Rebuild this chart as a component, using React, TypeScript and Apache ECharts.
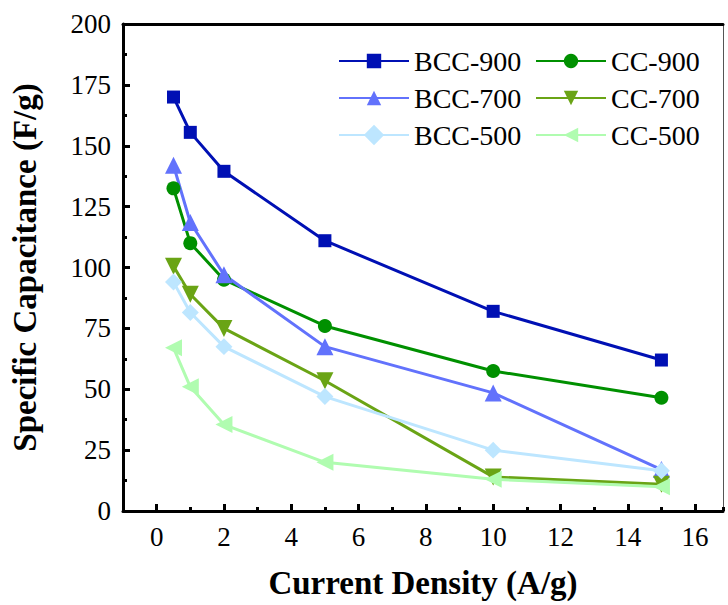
import React, { useEffect, useRef } from "react";
import * as echarts from "echarts";

// Current density (A/g)
const currentDensity = [0.5, 1, 2, 5, 10, 15];

// Specific capacitance (F/g) for each carbon sample
const bcc900 = [170, 155.5, 139.5, 111, 82, 62];
const bcc700 = [142, 118.5, 97, 67.5, 48.5, 17];
const bcc500 = [94, 81.5, 67.5, 47, 25, 16.5];
const cc900 = [132.5, 110, 95, 76, 57.5, 46.5];
const cc700 = [100.5, 89, 75, 53.5, 14, 11];
const cc500 = [67, 51, 35.5, 20, 13, 10];

const FONT = "serif";
const X_MIN = -1;
const X_MAX = 16.83;

const pair = (ys: number[]) => currentDensity.map((x, i) => [x, ys[i]]);

const seriesDefs = [
  { name: "BCC-900", data: bcc900, color: "#0010b4", symbol: "rect", size: 13, rotate: 0 },
  { name: "CC-900", data: cc900, color: "#009000", symbol: "circle", size: 14, rotate: 0 },
  { name: "BCC-700", data: bcc700, color: "#6272fc", symbol: "triangle", size: 17, rotate: 0 },
  { name: "CC-700", data: cc700, color: "#6aa415", symbol: "triangle", size: 17, rotate: 180 },
  { name: "BCC-500", data: bcc500, color: "#bde6ff", symbol: "rect", size: 12, rotate: 45 },
  { name: "CC-500", data: cc500, color: "#b0fcb0", symbol: "triangle", size: 17, rotate: 90 },
];

export default function App() {
  const ref = useRef<HTMLDivElement>(null);

  useEffect(() => {
    if (!ref.current) return;
    const chart = echarts.init(ref.current, null, { renderer: "svg" });

    const legendCommon = {
      orient: "vertical" as const,
      top: 42,
      itemWidth: 70,
      itemHeight: 18,
      itemGap: 9,
      textStyle: { fontFamily: FONT, fontSize: 28, lineHeight: 28, color: "#000" },
      selectedMode: false,
    };

    chart.setOption({
      animation: false,
      backgroundColor: "#fff",
      grid: { left: 123, top: 24, right: 5, bottom: 94 },
      legend: [
        { ...legendCommon, left: 333, data: ["BCC-900", "BCC-700", "BCC-500"] },
        { ...legendCommon, left: 530, data: ["CC-900", "CC-700", "CC-500"] },
      ],
      xAxis: [
        {
          // main axis: even-valued ticks and labels
          type: "value",
          min: X_MIN,
          max: X_MAX,
          splitNumber: 9,
          position: "bottom",
          name: "Current Density (A/g)",
          nameLocation: "middle",
          nameGap: 55,
          nameTextStyle: { fontFamily: FONT, fontSize: 33, fontWeight: "bold", color: "#000" },
          axisLine: { show: true, onZero: false, lineStyle: { color: "#000", width: 3 } },
          axisTick: { show: true, inside: true, length: 7, lineStyle: { color: "#000", width: 3 } },
          axisLabel: {
            show: true,
            showMinLabel: false,
            showMaxLabel: false,
            margin: 12,
            fontFamily: FONT,
            fontSize: 27,
            color: "#000",
          },
          splitLine: { show: false },
        },
        {
          // short ticks at every integer
          type: "value",
          min: X_MIN,
          max: X_MAX,
          interval: 1,
          position: "bottom",
          axisLine: { show: false, onZero: false },
          axisTick: { show: true, inside: true, length: 4, lineStyle: { color: "#000", width: 3 } },
          axisLabel: { show: false },
          splitLine: { show: false },
        },
        {
          // top frame
          type: "value",
          min: X_MIN,
          max: X_MAX,
          position: "top",
          axisLine: { show: true, onZero: false, lineStyle: { color: "#000", width: 3 } },
          axisTick: { show: false },
          axisLabel: { show: false },
          splitLine: { show: false },
        },
      ],
      yAxis: [
        {
          type: "value",
          min: 0,
          max: 200,
          interval: 25,
          name: "Specific Capacitance (F/g)",
          nameLocation: "middle",
          nameGap: 82,
          nameTextStyle: { fontFamily: FONT, fontSize: 33, fontWeight: "bold", color: "#000" },
          axisLine: { show: true, onZero: false, lineStyle: { color: "#000", width: 3 } },
          axisTick: { show: true, inside: true, length: 7, lineStyle: { color: "#000", width: 3 } },
          axisLabel: { show: true, margin: 12, fontFamily: FONT, fontSize: 27, color: "#000" },
          splitLine: { show: false },
        },
        {
          // short ticks every 12.5
          type: "value",
          min: 0,
          max: 200,
          interval: 12.5,
          position: "left",
          axisLine: { show: false, onZero: false },
          axisTick: { show: true, inside: true, length: 4, lineStyle: { color: "#000", width: 3 } },
          axisLabel: { show: false },
          splitLine: { show: false },
        },
        {
          // right frame
          type: "value",
          min: 0,
          max: 200,
          position: "right",
          axisLine: { show: true, onZero: false, lineStyle: { color: "#555", width: 1 } },
          axisTick: { show: false },
          axisLabel: { show: false },
          splitLine: { show: false },
        },
      ],
      series: seriesDefs.map((s) => ({
        name: s.name,
        type: "line",
        data: pair(s.data),
        symbol: s.symbol,
        symbolSize: s.size,
        symbolRotate: s.rotate,
        showAllSymbol: true,
        color: s.color,
        lineStyle: { color: s.color, width: 3 },
        itemStyle: { color: s.color },
      })),
    });

    return () => chart.dispose();
  }, []);

  return <div ref={ref} style={{ width: 728, height: 605, position: "absolute", left: 0, top: 0 }} />;
}
